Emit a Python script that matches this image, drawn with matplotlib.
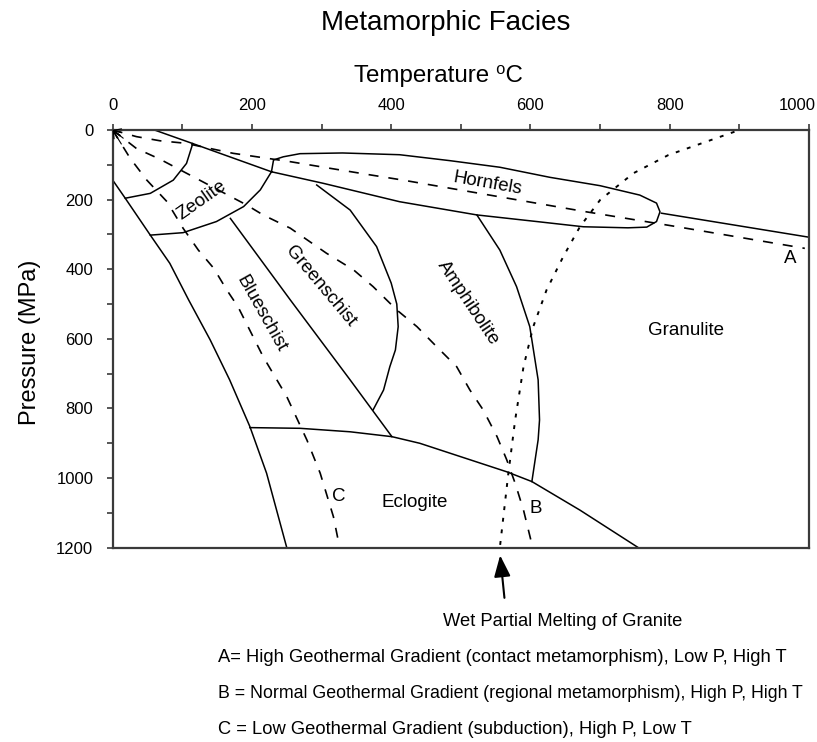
import matplotlib
matplotlib.use('Agg')
import matplotlib.pyplot as plt
import matplotlib.transforms as mtransforms
from matplotlib.ticker import MultipleLocator

plt.rcParams['font.family'] = ['Liberation Sans', 'DejaVu Sans']

# ---- data: temperature (deg C) / pressure (MPa) ----
# Blueschist / Zeolite lower-left boundary
bl_T = [0, 18, 54, 82, 109, 140, 168, 197, 221, 250]
bl_P = [144, 196, 302, 383, 488, 603, 718, 852, 986, 1200]
# surface line to Hornfels junction
top_T = [60, 115, 228]
top_P = [0, 39, 120]
# Zeolite inner arc
zi_T = [18, 54, 87, 106, 115]
zi_P = [196, 182, 144, 96, 39]
# Zeolite outer arc
zo_T = [54, 101, 149, 188, 212, 228]
zo_P = [302, 295, 263, 220, 172, 120]
# Blueschist / Greenschist boundary
bg_T = [169, 255, 341, 401]
bg_P = [254, 488, 718, 881]
# Greenschist / Amphibolite arc
ga_T = [293, 341, 379, 400, 408, 410, 406, 398, 389, 374]
ga_P = [158, 230, 335, 440, 500, 565, 632, 680, 747, 804]
# Amphibolite / Granulite boundary
ag_T = [523, 556, 580, 599, 611, 613, 611, 602]
ag_P = [244, 345, 450, 565, 718, 833, 890, 1010]
# Eclogite upper boundary
ec_T = [197, 269, 341, 401, 441, 566, 602, 671, 755]
ec_P = [855, 857, 867, 881, 900, 982, 1010, 1092, 1200]
# Hornfels outline
hf_T = [228, 231, 245, 269, 330, 412, 484, 556, 628, 700, 757, 781, 786, 781, 767, 740, 676, 609, 523, 412, 302, 228]
hf_P = [120, 86, 77, 68, 66, 71, 88, 107, 136, 160, 187, 210, 235, 263, 279, 281, 278, 263, 244, 206, 153, 120]
# line right of Hornfels
hr_T = [788, 1000]
hr_P = [239, 308]
# geotherms
A_T = [0, 34, 68, 104, 173, 255, 312, 370, 417, 680, 805, 994]
A_P = [0, 19, 31, 38, 67, 91, 110, 129, 144, 235, 276, 340]
B_T = [0, 34, 68, 192, 216, 255, 307, 346, 374, 408, 437, 465, 494, 513, 532, 552, 566, 578, 590, 602]
B_P = [0, 53, 84, 215, 244, 282, 354, 402, 450, 517, 565, 622, 680, 747, 804, 881, 948, 1015, 1092, 1190]
C_T = [0, 25, 49, 78, 101, 123, 145, 164, 180, 216, 250, 279, 298, 317, 326]
C_P = [0, 81, 144, 206, 282, 345, 397, 460, 508, 651, 766, 891, 986, 1111, 1200]
# wet partial melting of granite
wm_T = [893, 798, 748, 700, 671, 647, 623, 604, 590, 578, 568, 556]
wm_P = [5, 72, 124, 201, 278, 364, 460, 565, 680, 833, 990, 1200]

x_ticks = [0, 200, 400, 600, 800, 1000]
y_ticks = [0, 200, 400, 600, 800, 1000, 1200]

# facies labels: (text, T, P, rotation)
labels = [
    ('Zeolite', 128, 201, 35),
    ('Greenschist', 299, 450, -50),
    ('Blueschist', 213, 529, -60.6),
    ('Amphibolite', 511, 498, -56.3),
    ('Hornfels', 538, 155, -10),
    ('Granulite', 823, 577, 0),
    ('Eclogite', 434, 1069, 0),
    ('A', 973, 369, 0),
    ('B', 607, 1087, 0),
    ('C', 324, 1053, 0),
]

notes = [
    'A= High Geothermal Gradient (contact metamorphism), Low P, High T',
    'B = Normal Geothermal Gradient (regional metamorphism), High P, High T',
    'C = Low Geothermal Gradient (subduction), High P, Low T',
]
note_sizes = [13.2, 12.8, 13.2]

# ---- figure ----
W, H = 817, 742
fig = plt.figure(figsize=(W / 100, H / 100), dpi=100)
ax = fig.add_axes([112.7 / W, 1 - 547.7 / H, (809 - 112.7) / W, (547.7 - 130) / H])
ax.set_xlim(0, 1000)
ax.set_ylim(1200, 0)

solid = dict(color='black', lw=1.1, solid_joinstyle='round')
for T, P in [(bl_T, bl_P), (top_T, top_P), (zi_T, zi_P), (zo_T, zo_P), (bg_T, bg_P),
             (ga_T, ga_P), (ag_T, ag_P), (ec_T, ec_P), (hf_T, hf_P), (hr_T, hr_P)]:
    ax.plot(T, P, **solid)

dash = dict(color='black', lw=1.2, linestyle=(0, (6, 6)))
for T, P in [(A_T, A_P), (B_T, B_P), (C_T, C_P)]:
    ax.plot(T, P, **dash)
    # small arrowhead pointing to the origin
    ax.annotate('', xy=(T[0], P[0]), xytext=(T[1], P[1]),
                arrowprops=dict(arrowstyle='->,head_length=0.5,head_width=0.25',
                                color='black', lw=0.8, mutation_scale=10,
                                shrinkA=12, shrinkB=0))
ax.plot(wm_T, wm_P, color='black', lw=1.4, linestyle=(0, (2, 4)))

for txt, T, P, rot in labels:
    ax.text(T, P, txt, fontsize=13.5, rotation=rot, rotation_mode='anchor',
            ha='center', va='center')

# arrow toward melting curve
ax.annotate('', xy=(556, 1214), xytext=(563, 1352),
            arrowprops=dict(arrowstyle='-|>,head_length=0.65,head_width=0.25',
                            color='black', lw=1.5, mutation_scale=20),
            annotation_clip=False)

# axes styling
for s in ax.spines.values():
    s.set_color('#3a3a3a')
    s.set_linewidth(1.6)
ax.xaxis.tick_top()
ax.set_xticks(x_ticks)
ax.set_yticks(y_ticks)
ax.xaxis.set_minor_locator(MultipleLocator(100))
ax.yaxis.set_minor_locator(MultipleLocator(100))
ax.tick_params(axis='x', which='both', top=True, bottom=False, direction='out',
               length=4, width=1.2, color='#3a3a3a', pad=8.5, labelsize=12)
ax.tick_params(axis='y', which='both', left=True, right=False, direction='out',
               length=4, width=1.2, color='#3a3a3a', pad=10, labelsize=12)

# keep the last top label inside the figure, as in the original
fig.canvas.draw()
last = ax.get_xticklabels()[-1]
last.set_transform(last.get_transform() +
                   mtransforms.ScaledTranslation(-0.12, 0, fig.dpi_scale_trans))

fig.text(445.5 / W, 1 - 23.3 / H, 'Metamorphic Facies', fontsize=20, ha='center', va='center')
fig.text(438.6 / W, 1 - 76 / H, 'Temperature \u2070C', fontsize=17.4, ha='center', va='center')
fig.text(30 / W, 1 - 342.5 / H, 'Pressure (MPa)', fontsize=17, rotation=90, ha='center', va='center')
fig.text(443 / W, 1 - 621 / H, 'Wet Partial Melting of Granite', fontsize=13.2, ha='left', va='center')
for i, (n, fs) in enumerate(zip(notes, note_sizes)):
    fig.text(218 / W, 1 - (657 + 36.5 * i) / H, n, fontsize=fs, ha='left', va='center')

fig.savefig('out.png', dpi=100)
